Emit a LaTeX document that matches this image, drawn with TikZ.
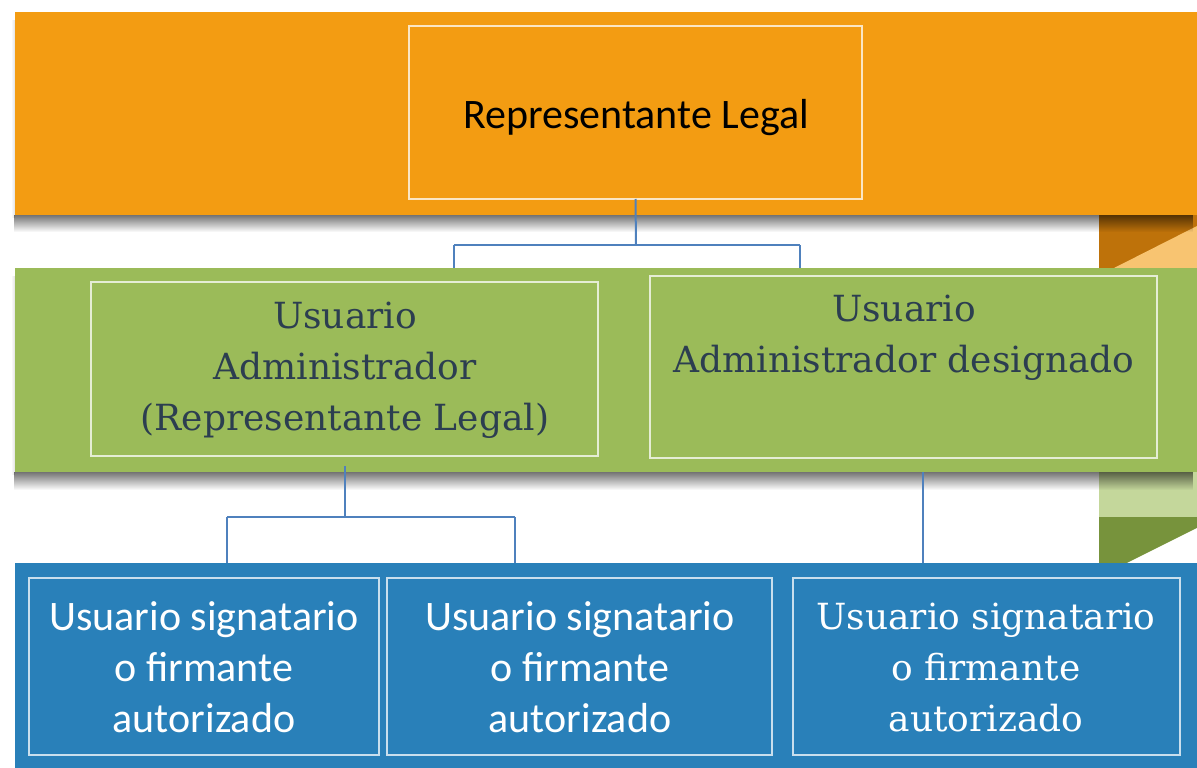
\documentclass[tikz,border=0pt]{standalone}
\usepackage{fontspec}
\newfontfamily\calibri{Carlito}
\newfontfamily\cambria{DejaVu Serif}
\usetikzlibrary{fadings}
\definecolor{orangeband}{HTML}{F39C12}
\definecolor{greenband}{HTML}{9BBB59}
\definecolor{blueband}{RGB}{41,128,185}
\definecolor{darkorange}{RGB}{190,114,10}
\definecolor{lightorange}{HTML}{F8C471}
\definecolor{lightgreen}{HTML}{C4D79B}
\definecolor{darkgreen}{HTML}{77933C}
\definecolor{slatetext}{HTML}{2C3E50}
\definecolor{connblue}{HTML}{4F81BD}
\tikzfading[name=shadowfade, top color=transparent!45, bottom color=transparent!100]
\tikzfading[name=sideshadow, right color=transparent!88, left color=transparent!100]
\tikzset{
  band/.style={draw=none, inner sep=0pt, outer sep=0pt, anchor=north west},
  ibox/.style={draw=white, draw opacity=0.75, line width=1.2pt, inner sep=0pt, outer sep=0pt, anchor=north west},
  conn/.style={draw=connblue, line width=2pt},
  sanslbl/.style={align=center, font=\calibri\fontsize{42}{51}\selectfont, inner sep=0pt},
  seriflbl/.style={align=center, font=\cambria\fontsize{36}{51}\selectfont, inner sep=0pt}
}
\begin{document}
\begin{tikzpicture}[x=1pt,y=-1pt]
\useasboundingbox (0,0) rectangle (1197,768);
% right decorative pieces
\fill[darkorange] (1099,215) rectangle (1197,268);
\fill[lightorange] (1114,268) -- (1197,268) -- (1197,226) -- cycle;
\fill[lightgreen] (1099,472) rectangle (1197,517);
\fill[darkgreen] (1099,517) rectangle (1197,563);
\fill[white] (1127,563) -- (1197,563) -- (1197,528) -- cycle;
% shadows
\fill[black, path fading=shadowfade] (15,215) rectangle (1197,232);
\fill[black, path fading=shadowfade] (15,472) rectangle (1197,490);
\fill[black, path fading=sideshadow] (11,20) rectangle (15,218);
\fill[black, path fading=sideshadow] (11,276) rectangle (15,475);
% bands
\node[band, fill=orangeband, minimum width=1182pt, minimum height=203pt] (ob) at (15,12) {};
\node[band, fill=greenband, minimum width=1182pt, minimum height=204pt] (gb) at (15,268) {};
\node[band, fill=blueband, minimum width=1182pt, minimum height=205pt] (bb) at (15,563) {};
% inner boxes
\node[ibox, minimum width=453pt, minimum height=173pt] (rl) at (409,26) {};
\node[ibox, minimum width=507pt, minimum height=174pt] (ua1) at (91,282) {};
\node[ibox, minimum width=507pt, minimum height=182pt] (ua2) at (650,276) {};
\node[ibox, minimum width=350pt, minimum height=177pt] (us1) at (29,578) {};
\node[ibox, minimum width=385pt, minimum height=177pt] (us2) at (387,578) {};
\node[ibox, minimum width=387pt, minimum height=177pt] (us3) at (793,578) {};
% texts
\node[sanslbl, text=black] (trl) at (636,118) {Representante Legal};
\node[seriflbl, text=slatetext] (tua1) at (345,370) {Usuario\\Administrador\\(Representante Legal)};
\node[seriflbl, text=slatetext] (tua2) at (904,338) {Usuario\\Administrador designado};
\node[sanslbl, text=white] (tus1) at (204,667) {Usuario signatario\\o firmante\\autorizado};
\node[sanslbl, text=white] (tus2) at (580,667) {Usuario signatario\\o firmante\\autorizado};
\node[seriflbl, text=white] (tus3) at (986,668) {Usuario signatario\\o firmante\\autorizado};
% connectors
\coordinate (j1) at (636,245);
\coordinate (j1l) at (454,245);
\coordinate (j1r) at (800,245);
\draw[conn] (rl.south) -- (j1);
\draw[conn] (j1l) -- (j1r);
\draw[conn] (j1l) -- (j1l |- gb.north);
\draw[conn] (j1r) -- (j1r |- gb.north);
\coordinate (s2) at (345,466);
\coordinate (j2) at (345,517);
\coordinate (j2l) at (227,517);
\coordinate (j2r) at (515,517);
\coordinate (s3) at (923,472);
\draw[conn] (s2) -- (j2);
\draw[conn] (j2l) -- (j2r);
\draw[conn] (j2l) -- (j2l |- bb.north);
\draw[conn] (j2r) -- (j2r |- bb.north);
\draw[conn] (s3) -- (s3 |- bb.north);
\end{tikzpicture}
\end{document}
